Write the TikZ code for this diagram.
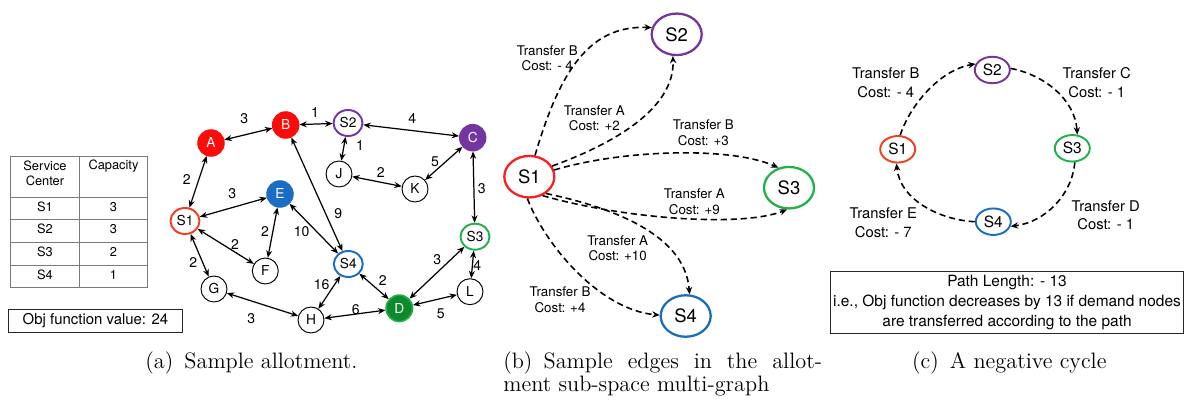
\documentclass[tikz,border=0pt]{standalone}
\usepackage{fontspec}
\newfontfamily\helv{TeX Gyre Heros}
\usepackage{tikz}
\usetikzlibrary{arrows.meta,shapes.geometric}
\definecolor{nred}{HTML}{FF0A0A}
\definecolor{sred}{HTML}{F0401E}
\definecolor{mred}{HTML}{FA1E1E}
\definecolor{npurple}{HTML}{7435A3}
\definecolor{nblue}{HTML}{1A6DC2}
\definecolor{ngreen}{HTML}{22B04A}
\definecolor{ndgreen}{HTML}{0C8A2C}
\definecolor{tgray}{HTML}{7A7A7A}
\tikzset{
    gnode/.style={circle,draw,line width=0.55pt,minimum size=0.52cm,inner sep=0pt,font=\helv\fontsize{7.8}{9}\selectfont},
    fnode/.style={gnode,draw=#1,fill=#1,text=white,minimum size=0.53cm},
    snode/.style={gnode,ellipse,draw=#1,line width=1.1pt,minimum width=0.58cm,minimum height=0.52cm},
    mnode/.style={ellipse,draw=#1,line width=1.3pt,minimum width=1.0cm,minimum height=0.83cm,inner sep=0pt,font=\helv\fontsize{10.5}{12}\selectfont},
    rnode/.style={ellipse,draw=#1,line width=1.1pt,minimum width=0.7cm,minimum height=0.53cm,inner sep=0pt,font=\helv\fontsize{8.8}{10}\selectfont},
    link/.style={>={Stealth[length=4.2pt,width=3.4pt]},<->,line width=0.7pt},
    dlink/.style={>={Stealth[length=4.2pt,width=3.6pt]},->,dash pattern=on 3.5pt off 2.2pt,line width=0.9pt},
    wlbl/.style={inner sep=0pt,font=\helv\fontsize{8}{9}\selectfont},
    mlbl/.style={inner sep=0pt,align=center,font=\helv\fontsize{7.6}{8.9}\selectfont},
    rlbl/.style={inner sep=0pt,align=center,font=\helv\fontsize{8.4}{10.4}\selectfont},
    tline/.style={draw=tgray,line width=0.55pt},
    ttext/.style={inner sep=0pt,align=center,font=\helv\fontsize{7.3}{8.3}\selectfont},
    infobox/.style={draw=black!85,line width=0.7pt,inner sep=0pt,align=center},
    capt/.style={inner sep=0pt,font=\fontsize{12.7}{13.2}\selectfont}
}

\begin{document}
\begin{tikzpicture}[x=0.02cm,y=-0.02cm]
    \useasboundingbox (0,0) rectangle (1190,399);

    \draw[tline] (10.7,156) rectangle (147.7,287.7);
    \draw[tline] (79.3,156) -- (79.3,287.7);
    \foreach \y in {197.3,219.7,242.3,265}
        \draw[tline] (10.7,\y) -- (147.7,\y);
    \node[ttext] (hcenter) at (45,173.3) {Service\\Center};
    \node[ttext] (hcap) at (113.5,166) {Capacity};
    \foreach \s/\c/\y in {S1/3/206.7,S2/3/229.3,S3/2/252,S4/1/274.7}{
        \node[ttext] (t\s) at (45,\y) {\s};
        \node[ttext] (c\s) at (113.5,\y) {\c};
    }
    \node[infobox,minimum width=3.49cm,minimum height=0.46cm,font=\helv\fontsize{8.5}{10}\selectfont] (obj) at (95.5,320.8) {Obj function value: 24};

    \node[fnode=nred] (A) at (211,143) {A};
    \node[fnode=nred] (B) at (285.7,125) {B};
    \node[snode=npurple] (S2) at (348,123) {S2};
    \node[fnode=npurple] (C) at (472.7,137.7) {C};
    \node[gnode] (J) at (339,174) {J};
    \node[gnode] (K) at (415,189) {K};
    \node[fnode=nblue] (E) at (280,194) {E};
    \node[snode=sred] (S1) at (185,221) {S1};
    \node[snode=ngreen] (S3) at (475,236.7) {S3};
    \node[gnode] (F) at (265.3,271) {F};
    \node[snode=nblue] (S4) at (348.3,264) {S4};
    \node[gnode] (G) at (214,289) {G};
    \node[gnode] (L) at (470,291.7) {L};
    \node[fnode=ndgreen,draw=ngreen,line width=0.9pt] (D) at (399.3,308.3) {D};
    \node[gnode] (H) at (311,320) {H};

    \draw[link] (A) -- (B);
    \draw[link] (B) -- (S2);
    \draw[link] (S2) -- (C);
    \draw[link] (S2) -- (J);
    \draw[link] (C) -- (K);
    \draw[link] (J) -- (K);
    \draw[link] (C) -- (S3);
    \draw[link] (S1) -- (A);
    \draw[link] (S1) -- (E);
    \draw[link] (E) -- (F);
    \draw[link] (S1) -- (F);
    \draw[link] (E) -- (S4);
    \draw[link] (B) -- (S4);
    \draw[link] (S1) -- (G);
    \draw[link] (S4) -- (H);
    \draw[link] (S4) -- (D);
    \draw[link] (S3) -- (D);
    \draw[link] (S3) -- (L);
    \draw[link] (G) -- (H);
    \draw[link] (H) -- (D);
    \draw[link] (D) -- (L);

    \node[wlbl] (wAB) at (244.3,118.3) {3};
    \node[wlbl] (wBS2) at (315,113) {1};
    \node[wlbl] (wS2C) at (412.3,118.3) {4};
    \node[wlbl] (wS2J) at (360,146) {1};
    \node[wlbl] (wCK) at (435,161.7) {5};
    \node[wlbl] (wJK) at (380.7,172.7) {2};
    \node[wlbl] (wCS3) at (481.7,188.3) {3};
    \node[wlbl] (wS1A) at (186.7,179.3) {2};
    \node[wlbl] (wS1E) at (232.3,193.3) {3};
    \node[wlbl] (wEF) at (265,231.7) {2};
    \node[wlbl] (wS1F) at (235,245) {2};
    \node[wlbl] (wES4) at (301.7,231.7) {10};
    \node[wlbl] (wBS4) at (338.3,213.3) {9};
    \node[wlbl] (wS1G) at (193.3,262.3) {2};
    \node[wlbl] (wS4H) at (321.7,285) {16};
    \node[wlbl] (wS4D) at (382.7,280.7) {2};
    \node[wlbl] (wS3D) at (437.3,259.3) {3};
    \node[wlbl] (wS3L) at (477.3,265.7) {4};
    \node[wlbl] (wGH) at (251.3,318.3) {3};
    \node[wlbl] (wHD) at (355.7,310) {6};
    \node[wlbl] (wDL) at (440.7,314) {5};

    \node[mnode=mred] (mS1) at (529.3,176.7) {S1};
    \node[mnode=npurple] (mS2) at (676.7,34.3) {S2};
    \node[mnode=ngreen] (mS3) at (789,187.7) {S3};
    \node[mnode=nblue] (mS4) at (685.7,316) {S4};

    \draw[dlink] (mS1.75) .. controls (560,70) and (590,25) .. (mS2.165);
    \draw[dlink] (mS1.25) .. controls (610,145) and (675,110) .. (mS2.260);
    \draw[dlink] (mS1.15) .. controls (620,150) and (730,146) .. (mS3.118);
    \draw[dlink] (mS1.-55) .. controls (620,218) and (740,228) .. (mS3.265);
    \draw[dlink] (mS1.-45) .. controls (600,205) and (685,230) .. (mS4.80);
    \draw[dlink] (mS1.-95) .. controls (545,245) and (600,310) .. (mS4.178);

    \node[mlbl] (mB2) at (547.3,58.3) {Transfer B\\Cost: - 4};
    \node[mlbl] (mA2) at (594.3,118.3) {Transfer A\\Cost: +2};
    \node[mlbl] (mB3) at (703.3,132.7) {Transfer B\\Cost: +3};
    \node[mlbl] (mA3) at (694.3,201.7) {Transfer A\\Cost: +9};
    \node[mlbl] (mA4) at (617.7,248.3) {Transfer A\\Cost: +10};
    \node[mlbl] (mB4) at (560,300) {Transfer B\\Cost: +4};

    \node[rnode=sred] (rS1) at (897.7,149.3) {S1};
    \node[rnode=npurple] (rS2) at (992.3,70) {S2};
    \node[rnode=ngreen] (rS3) at (1072.3,148.3) {S3};
    \node[rnode=nblue] (rS4) at (993.3,221.7) {S4};

    \draw[dlink] (rS1.80) .. controls (910,105) and (940,70) .. (rS2.160);
    \draw[dlink] (rS2.5) .. controls (1045,75) and (1075,100) .. (rS3.70);
    \draw[dlink] (rS3.280) .. controls (1072,195) and (1045,222) .. (rS4.345);
    \draw[dlink] (rS4.180) .. controls (940,220) and (900,200) .. (rS1.265);

    \node[rlbl] (rB) at (885.7,82.7) {Transfer B\\Cost: - 4};
    \node[rlbl] (rC) at (1096.7,82.7) {Transfer C\\Cost: - 1};
    \node[rlbl] (rD) at (1105.7,215) {Transfer D\\Cost: - 1};
    \node[rlbl] (rE) at (883.3,222.7) {Transfer E\\Cost: - 7};

    \node[infobox,minimum width=7.05cm,minimum height=1.23cm,font=\helv\fontsize{8.8}{11.2}\selectfont] (plen) at (1007,302.5) {Path Length: - 13\\i.e., Obj function decreases by 13 if demand nodes\\are transferred according to the path};

    \node[capt,anchor=base west] (capa) at (145,368.3) {(a)\enskip Sample allotment.};
    \node[capt,anchor=north west,align=left] (capb) at (503,351.5) {\makebox[181.4pt][s]{(b)\enskip Sample edges in the allot-}\\ment sub-space multi-graph};
    \node[capt,anchor=base west] (capc) at (911.7,368.3) {(c)\enskip A negative cycle};
\end{tikzpicture}
\end{document}
